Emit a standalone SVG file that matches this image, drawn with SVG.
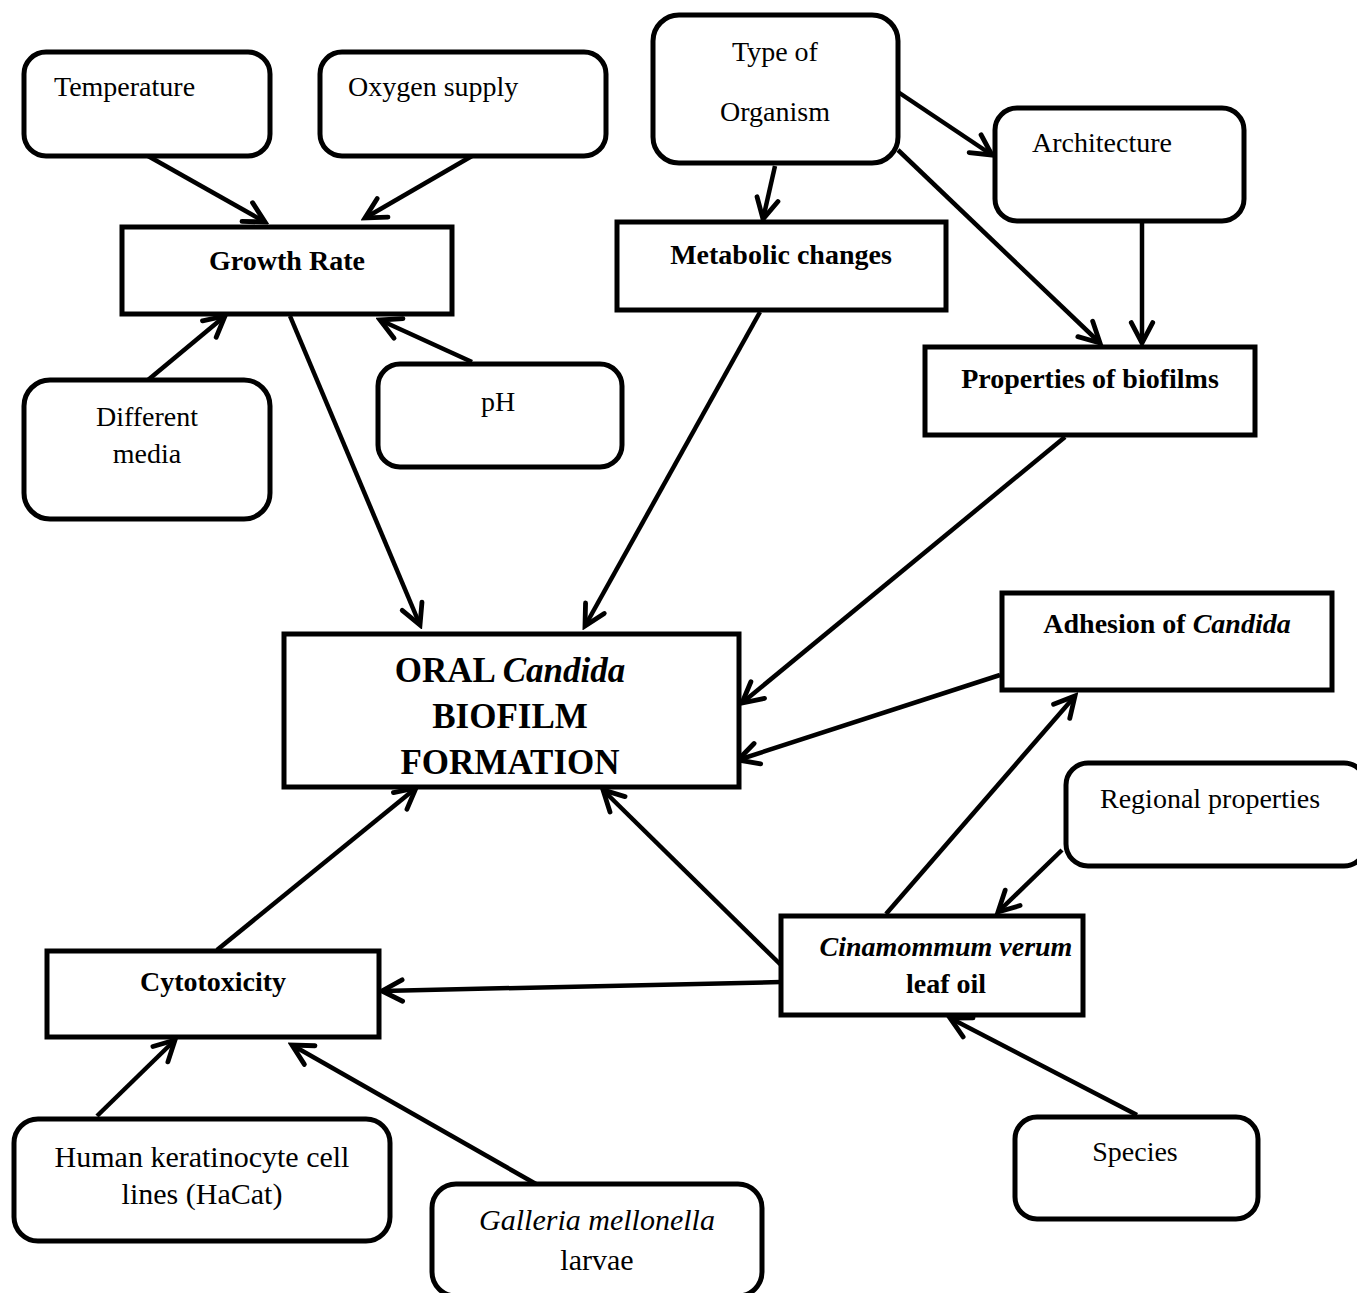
<svg xmlns="http://www.w3.org/2000/svg" width="1357" height="1293" viewBox="0 0 1357 1293">
<style>
.rb{fill:#fff;stroke:#000;stroke-width:5}
.bx{fill:#fff;stroke:#000;stroke-width:5}
.t{font-family:"Liberation Serif","Times New Roman",serif;font-size:28px;fill:#000}
.b{font-weight:bold}
.c{text-anchor:middle}
.cn line{stroke:#000;stroke-width:4.5;marker-end:url(#ah)}
</style>
<defs>
<marker id="ah" markerUnits="userSpaceOnUse" markerWidth="30" markerHeight="30" viewBox="-24 -14 28 28" refX="0" refY="0" orient="auto">
<path d="M-19,-10 L0,0 L-19,10" fill="none" stroke="#000" stroke-width="4.5" stroke-linecap="round" stroke-linejoin="miter"/>
</marker>
</defs>
<rect width="1357" height="1293" fill="#fff"/>
<g class="cn">
<line x1="148" y1="156" x2="265" y2="222"/>
<line x1="472" y1="156" x2="365" y2="218"/>
<line x1="148" y1="380" x2="225" y2="316"/>
<line x1="472" y1="362" x2="380" y2="320"/>
<line x1="290" y1="316" x2="420" y2="625"/>
<line x1="775" y1="166" x2="763" y2="219"/>
<line x1="898" y1="92" x2="992" y2="155"/>
<line x1="898" y1="150" x2="1100" y2="343"/>
<line x1="1142" y1="222" x2="1142" y2="343"/>
<line x1="760" y1="312" x2="585" y2="626"/>
<line x1="1065" y1="437" x2="742" y2="703"/>
<line x1="1000" y1="675" x2="738" y2="760"/>
<line x1="886" y1="914" x2="1075" y2="696"/>
<line x1="1062" y1="850" x2="998" y2="912"/>
<line x1="781" y1="965" x2="603" y2="790"/>
<line x1="781" y1="982" x2="382" y2="991"/>
<line x1="217" y1="950" x2="416" y2="788"/>
<line x1="97" y1="1116" x2="175" y2="1040"/>
<line x1="536" y1="1184" x2="292" y2="1045"/>
<line x1="1137" y1="1115" x2="950" y2="1018"/>
</g>
<g id="temperature"><rect class="rb" x="24" y="52" width="246" height="104" rx="22"/><text class="t" x="54" y="96">Temperature</text></g>
<g id="oxygen"><rect class="rb" x="320" y="52" width="286" height="104" rx="22"/><text class="t" x="348" y="96">Oxygen supply</text></g>
<g id="growth"><rect class="bx" x="122" y="227" width="330" height="87"/><text class="t b c" x="287" y="270">Growth Rate</text></g>
<g id="media"><rect class="rb" x="24" y="380" width="246" height="139" rx="26"/><text class="t c" x="147" y="426">Different</text><text class="t c" x="147" y="463">media</text></g>
<g id="ph"><rect class="rb" x="378" y="364" width="244" height="103" rx="22"/><text class="t c" x="498" y="411">pH</text></g>
<g id="organism"><rect class="rb" x="653" y="15" width="245" height="148" rx="26"/><text class="t c" x="775" y="61">Type of</text><text class="t c" x="775" y="121">Organism</text></g>
<g id="architecture"><rect class="rb" x="995" y="108" width="249" height="113" rx="22"/><text class="t" x="1032" y="152">Architecture</text></g>
<g id="metabolic"><rect class="bx" x="617" y="222" width="329" height="88"/><text class="t b c" x="781" y="264">Metabolic changes</text></g>
<g id="properties"><rect class="bx" x="925" y="347" width="330" height="88"/><text class="t b c" x="1090" y="388">Properties of biofilms</text></g>
<g id="oral"><rect class="bx" x="284" y="634" width="455" height="153"/>
<text class="t b c" x="510" y="682" style="font-size:35px">ORAL <tspan font-style="italic">Candida</tspan></text>
<text class="t b c" x="510" y="728" style="font-size:35px">BIOFILM</text>
<text class="t b c" x="510" y="774" style="font-size:35px">FORMATION</text></g>
<g id="adhesion"><rect class="bx" x="1002" y="593" width="330" height="97"/><text class="t b c" x="1167" y="633">Adhesion of <tspan font-style="italic">Candida</tspan></text></g>
<g id="regional"><rect class="rb" x="1066" y="763" width="300" height="103" rx="22"/><text class="t" x="1100" y="808">Regional properties</text></g>
<g id="cinamommum"><rect class="bx" x="781" y="916" width="302" height="99"/><text class="t b c" x="946" y="956" font-style="italic">Cinamommum verum</text><text class="t b c" x="946" y="993">leaf oil</text></g>
<g id="cytotoxicity"><rect class="bx" x="47" y="951" width="332" height="86"/><text class="t b c" x="213" y="991">Cytotoxicity</text></g>
<g id="human"><rect class="rb" x="14" y="1119" width="376" height="122" rx="24"/><text class="t c" x="202" y="1167" style="font-size:30px">Human keratinocyte cell</text><text class="t c" x="202" y="1204" style="font-size:30px">lines (HaCat)</text></g>
<g id="galleria"><rect class="rb" x="432" y="1184" width="330" height="112" rx="24"/><text class="t c" x="597" y="1230" style="font-size:30px" font-style="italic">Galleria mellonella</text><text class="t c" x="597" y="1270" style="font-size:30px">larvae</text></g>
<g id="species"><rect class="rb" x="1015" y="1117" width="243" height="102" rx="22"/><text class="t c" x="1135" y="1161">Species</text></g>
</svg>
